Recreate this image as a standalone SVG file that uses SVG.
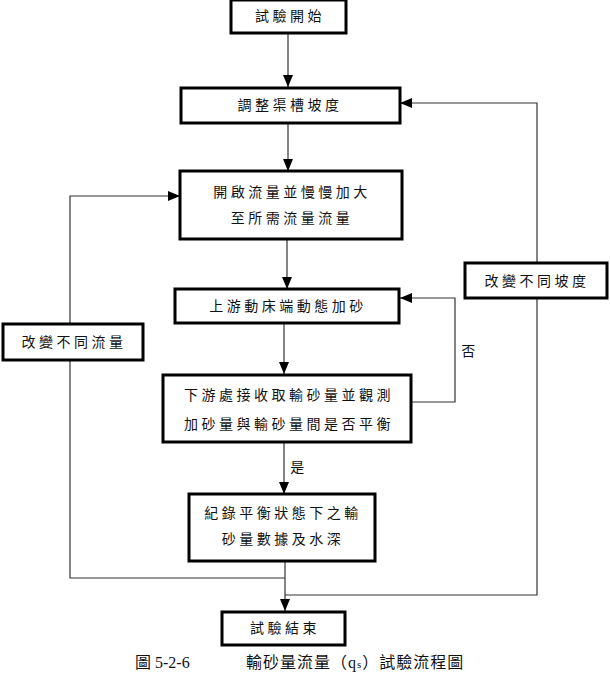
<svg xmlns="http://www.w3.org/2000/svg" width="610" height="675" viewBox="0 0 610 675">
<defs>
<marker id="ah" markerWidth="12" markerHeight="10" refX="12" refY="5" orient="auto" markerUnits="userSpaceOnUse">
<path d="M0,0 L12,5 L0,10 Z" fill="#000"/>
</marker>
<style>
.box{fill:#fff;stroke:#000;stroke-width:3}
.t{font-family:"Noto Sans CJK TC","Noto Sans CJK SC",sans-serif;font-size:14px;letter-spacing:3.5px;fill:#111;text-anchor:middle}
.ln{fill:none;stroke:#333;stroke-width:1.2}
.cap{font-family:"Liberation Serif","Noto Sans CJK TC",serif;font-size:16px;fill:#111}
</style>
</defs>
<g id="connectors">
<line class="ln" x1="288" y1="34" x2="288" y2="87" marker-end="url(#ah)"/>
<line class="ln" x1="288" y1="123" x2="288" y2="171" marker-end="url(#ah)"/>
<line class="ln" x1="287" y1="239" x2="287" y2="289" marker-end="url(#ah)"/>
<line class="ln" x1="284" y1="323" x2="284" y2="374" marker-end="url(#ah)"/>
<line class="ln" x1="284" y1="443" x2="284" y2="494" marker-end="url(#ah)"/>
<line class="ln" x1="285" y1="561" x2="285" y2="611" marker-end="url(#ah)"/>
<polyline class="ln" points="411,402 455,402 455,298 400,298" marker-end="url(#ah)"/>
<polyline class="ln" points="285,578 70,578 70,196 180,196" marker-end="url(#ah)"/>
<polyline class="ln" points="285,595 537,595 537,103 400,103" marker-end="url(#ah)"/>
<text class="t" x="299" y="472">是</text>
<text class="t" x="470" y="356">否</text>
</g>
<g id="n1"><rect class="box" x="231" y="0" width="115" height="33"/><text class="t" x="290" y="21">試驗開始</text></g>
<g id="n2"><rect class="box" x="181" y="88" width="219" height="35"/><text class="t" x="290" y="110">調整渠槽坡度</text></g>
<g id="n3"><rect class="box" x="180" y="171" width="222" height="68"/><text class="t" x="292" y="197">開啟流量並慢慢加大</text><text class="t" x="292" y="223">至所需流量流量</text></g>
<g id="n4"><rect class="box" x="175" y="289" width="224" height="34"/><text class="t" x="288" y="311">上游動床端動態加砂</text></g>
<g id="n5"><rect class="box" x="163" y="375" width="248" height="67"/><text class="t" x="289" y="400">下游處接收取輸砂量並觀測</text><text class="t" x="289" y="429">加砂量與輸砂量間是否平衡</text></g>
<g id="n6"><rect class="box" x="189" y="494" width="186" height="67"/><text class="t" x="283" y="518">紀錄平衡狀態下之輸</text><text class="t" x="283" y="544">砂量數據及水深</text></g>
<g id="n7"><rect class="box" x="222" y="612" width="123" height="33"/><text class="t" x="285" y="633">試驗結束</text></g>
<g id="n8"><rect class="box" x="3" y="324" width="140" height="36"/><text class="t" x="74" y="347">改變不同流量</text></g>
<g id="n9"><rect class="box" x="465" y="263" width="142" height="35"/><text class="t" x="537" y="286">改變不同坡度</text></g>
<text class="cap" x="135" y="668">圖 5-2-6</text>
<text class="cap" x="246" y="668" letter-spacing="1">輸砂量流量（q<tspan font-size="11">s</tspan>）試驗流程圖</text>
</svg>
